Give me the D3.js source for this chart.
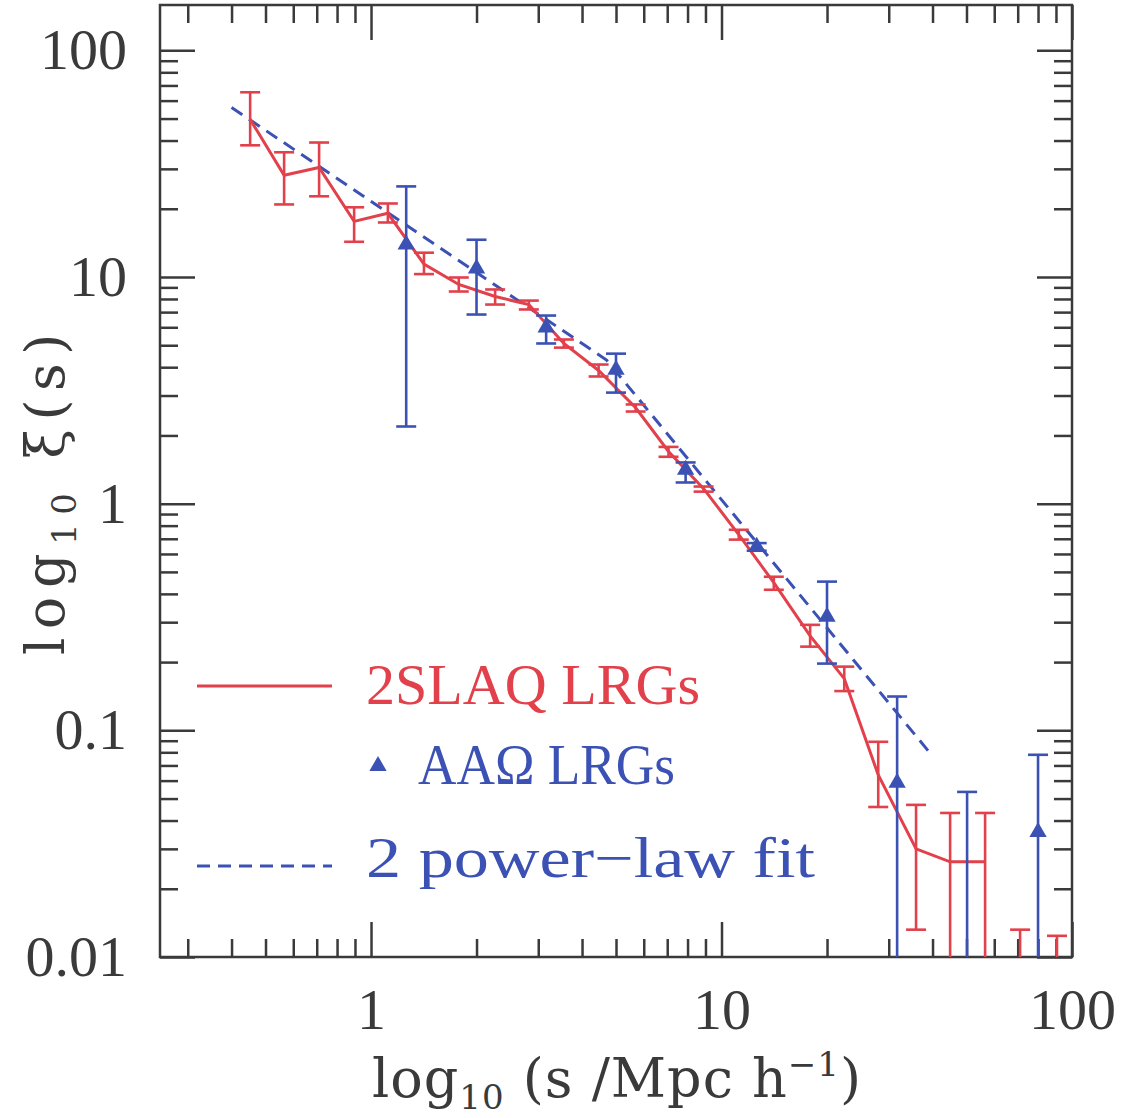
<!DOCTYPE html>
<html>
<head>
<meta charset="utf-8">
<script src="https://cdn.jsdelivr.net/npm/d3@7"></script>
<style>
  html, body { margin: 0; padding: 0; background: #fff; }
  svg { display: block; }
</style>
</head>
<body>
<svg id="chart" width="1131" height="1118"></svg>
<script>
// ---------- data ----------
const sRed   = [0.452, 0.565, 0.711, 0.895, 1.117, 1.416, 1.78, 2.26, 2.82, 3.55, 4.46, 5.69, 7.06, 8.89, 11.2, 14.1, 17.9, 22.4, 28.0, 35.9, 44.9, 56.5, 71.1, 90.6];
const xiRed  = [49.6, 28.1, 30.4, 17.6, 19.1, 11.4, 9.27, 8.20, 7.56, 5.09, 3.87, 2.65, 1.70, 1.165, 0.730, 0.448, 0.261, 0.169, 0.0636, 0.030, 0.0263, 0.0263, null, null];
const redHi  = [65.3, 35.5, 39.2, 20.3, 21.1, 12.8, 9.95, 8.81, 7.87, 5.30, 4.11, 2.74, 1.78, 1.19, 0.767, 0.476, 0.292, 0.191, 0.089, 0.0469, 0.0432, 0.0432, 0.0132, 0.0124];
const redLo  = [38.1, 20.9, 22.7, 14.3, 17.4, 10.3, 8.63, 7.56, 7.19, 4.88, 3.64, 2.55, 1.61, 1.13, 0.694, 0.417, 0.234, 0.149, 0.0459, 0.0132, null, null, null, null];

const sBlue  = [1.26, 2.0, 3.16, 5.0, 7.9, 12.6, 20.0, 31.7, 50.2, 80.0];
const xiBlue = [13.9, 10.9, 5.98, 3.90, 1.41, 0.646, 0.317, 0.0587, null, 0.0356];
const blueHi = [25.1, 14.6, 6.76, 4.59, 1.52, 0.67, 0.453, 0.141, 0.0535, 0.078];
const blueLo = [2.19, 6.83, 5.09, 3.09, 1.24, 0.62, 0.197, null, null, null];

const sFit   = [0.40, 4.7, 40];
const xiFit  = [56, 4.3, 0.077];

const xMajor = [1, 10, 100];
const xMajorLabels = ["1", "10", "100"];
const yMajor = [0.01, 0.1, 1, 10, 100];
const yMajorLabels = ["0.01", "0.1", "1", "10", "100"];

const legendLabels = ["2SLAQ LRGs", "AA\u03A9 LRGs", "2 power\u2212law fit"];

// ---------- setup ----------
const RED = "#e2404b", BLUE = "#3b52b4", AXIS = "#3a3a3a";
const FONT = "'Liberation Serif', 'DejaVu Serif', serif";
const TFONT = "'DejaVu Serif', 'Liberation Serif', serif";
const L = 160, R = 1072, T = 5, B = 957;

const svg = d3.select("#chart");
const x = d3.scaleLog().domain([0.25, 100]).range([L, R]);
const y = d3.scaleLog().domain([0.01, Math.pow(10, 2.2)]).range([B, T]);

function minors(lo, hi) {
  const out = [];
  for (let e = Math.floor(Math.log10(lo)); e <= Math.ceil(Math.log10(hi)); e++) {
    for (let m = 2; m <= 9; m++) {
      const v = m * Math.pow(10, e);
      if (v > lo * 1.0001 && v < hi * 0.9999) out.push(v);
    }
  }
  return out;
}
const xMinor = minors(0.25, 100);
const yMinor = minors(0.01, Math.pow(10, 2.2));

svg.append("defs").append("clipPath").attr("id", "clip")
  .append("rect").attr("x", L).attr("y", T).attr("width", R - L).attr("height", B - T);

// ---------- axes ----------
function styleAxis(g, labels) {
  g.select(".domain").remove();
  g.selectAll(".tick line").attr("stroke", AXIS).attr("stroke-width", 2.5);
  g.selectAll("text").attr("fill", AXIS).style("font-family", FONT).style("font-size", "58px");
  if (!labels) g.selectAll("text").remove();
}
const MAJ = 35, MIN = 18;
// bottom
svg.append("g").attr("transform", `translate(0,${B})`)
  .call(d3.axisBottom(x).tickValues(xMajor).tickSize(-MAJ).tickPadding(31)
    .tickFormat((d, i) => xMajorLabels[i]))
  .call(g => styleAxis(g, true));
svg.append("g").attr("transform", `translate(0,${B})`)
  .call(d3.axisBottom(x).tickValues(xMinor).tickSize(-MIN)).call(g => styleAxis(g, false));
// top
svg.append("g").attr("transform", `translate(0,${T})`)
  .call(d3.axisTop(x).tickValues(xMajor).tickSize(-MAJ)).call(g => styleAxis(g, false));
svg.append("g").attr("transform", `translate(0,${T})`)
  .call(d3.axisTop(x).tickValues(xMinor).tickSize(-MIN)).call(g => styleAxis(g, false));
// left
svg.append("g").attr("transform", `translate(${L},0)`)
  .call(d3.axisLeft(y).tickValues(yMajor).tickSize(-MAJ).tickPadding(33)
    .tickFormat((d, i) => yMajorLabels[i]))
  .call(g => styleAxis(g, true));
svg.append("g").attr("transform", `translate(${L},0)`)
  .call(d3.axisLeft(y).tickValues(yMinor).tickSize(-MIN)).call(g => styleAxis(g, false));
// right
svg.append("g").attr("transform", `translate(${R},0)`)
  .call(d3.axisRight(y).tickValues(yMajor).tickSize(-MAJ)).call(g => styleAxis(g, false));
svg.append("g").attr("transform", `translate(${R},0)`)
  .call(d3.axisRight(y).tickValues(yMinor).tickSize(-MIN)).call(g => styleAxis(g, false));

// frame
svg.append("rect").attr("x", L).attr("y", T).attr("width", R - L).attr("height", B - T)
  .attr("fill", "none").attr("stroke", AXIS).attr("stroke-width", 2.5);

// ---------- data marks ----------
const plot = svg.append("g").attr("clip-path", "url(#clip)");
const yLow = v => (v == null ? B + 5 : y(v));

// fit (dashed)
plot.append("path")
  .datum(sFit.map((s, i) => [s, xiFit[i]]))
  .attr("d", d3.line().x(d => x(d[0])).y(d => y(d[1])))
  .attr("fill", "none").attr("stroke", BLUE).attr("stroke-width", 3)
  .attr("stroke-dasharray", "13,8");

// red error bars
const redData = sRed.map((s, i) => ({ s, v: xiRed[i], hi: redHi[i], lo: redLo[i] }));
const capR = 10;
const rg = plot.append("g").attr("stroke", RED).attr("stroke-width", 2.6).attr("fill", "none");
rg.selectAll("line.v").data(redData).join("line")
  .attr("x1", d => x(d.s)).attr("x2", d => x(d.s))
  .attr("y1", d => y(d.hi)).attr("y2", d => yLow(d.lo));
rg.selectAll("line.h").data(redData).join("line")
  .attr("x1", d => x(d.s) - capR).attr("x2", d => x(d.s) + capR)
  .attr("y1", d => y(d.hi)).attr("y2", d => y(d.hi));
rg.selectAll("line.l").data(redData.filter(d => d.lo != null)).join("line")
  .attr("x1", d => x(d.s) - capR).attr("x2", d => x(d.s) + capR)
  .attr("y1", d => y(d.lo)).attr("y2", d => y(d.lo));
// red line
plot.append("path")
  .datum(redData.filter(d => d.v != null))
  .attr("d", d3.line().x(d => x(d.s)).y(d => y(d.v)))
  .attr("fill", "none").attr("stroke", RED).attr("stroke-width", 3);

// blue error bars + triangles
const blueData = sBlue.map((s, i) => ({ s, v: xiBlue[i], hi: blueHi[i], lo: blueLo[i] }));
const capB = 10;
const bg = plot.append("g").attr("stroke", BLUE).attr("stroke-width", 2.6).attr("fill", "none");
bg.selectAll("line.v").data(blueData).join("line")
  .attr("x1", d => x(d.s)).attr("x2", d => x(d.s))
  .attr("y1", d => y(d.hi)).attr("y2", d => yLow(d.lo));
bg.selectAll("line.h").data(blueData).join("line")
  .attr("x1", d => x(d.s) - capB).attr("x2", d => x(d.s) + capB)
  .attr("y1", d => y(d.hi)).attr("y2", d => y(d.hi));
bg.selectAll("line.l").data(blueData.filter(d => d.lo != null)).join("line")
  .attr("x1", d => x(d.s) - capB).attr("x2", d => x(d.s) + capB)
  .attr("y1", d => y(d.lo)).attr("y2", d => y(d.lo));
const tri = d3.symbol().type(d3.symbolTriangle).size(130);
plot.append("g").selectAll("path").data(blueData.filter(d => d.v != null)).join("path")
  .attr("transform", d => `translate(${x(d.s)},${y(d.v)})`)
  .attr("d", tri).attr("fill", BLUE);

// ---------- legend ----------
const lg = svg.append("g");
lg.append("line").attr("x1", 197).attr("x2", 332).attr("y1", 686).attr("y2", 686)
  .attr("stroke", RED).attr("stroke-width", 3);
lg.append("text").attr("x", 366).attr("y", 704).text(legendLabels[0])
  .attr("fill", RED).style("font-family", FONT).style("font-size", "56px")
  .attr("textLength", 334).attr("lengthAdjust", "spacingAndGlyphs");
lg.append("path").attr("transform", "translate(378,766)").attr("d", tri).attr("fill", BLUE);
lg.append("text").attr("x", 418).attr("y", 784).text(legendLabels[1])
  .attr("fill", BLUE).style("font-family", FONT).style("font-size", "56px")
  .attr("textLength", 257).attr("lengthAdjust", "spacingAndGlyphs");
lg.append("line").attr("x1", 197).attr("x2", 332).attr("y1", 866).attr("y2", 866)
  .attr("stroke", BLUE).attr("stroke-width", 3).attr("stroke-dasharray", "13,8");
lg.append("text").attr("x", 366).attr("y", 877).text(legendLabels[2])
  .attr("fill", BLUE).style("font-family", FONT).style("font-size", "56px")
  .attr("textLength", 449).attr("lengthAdjust", "spacingAndGlyphs");

// ---------- axis titles ----------
function fitWidth(sel, target) {
  const n = sel.text().length;
  const w = sel.node().getComputedTextLength();
  sel.attr("letter-spacing", Math.max(0, (target - w) / n));
}
const xt = svg.append("text").attr("x", 372).attr("y", 1097)
  .attr("fill", AXIS).style("font-family", TFONT).style("font-size", "54px");
xt.append("tspan").text("log");
xt.append("tspan").attr("dy", 12).style("font-size", "34px").text("10");
xt.append("tspan").attr("dy", -12).text(" (s /Mpc h");
xt.append("tspan").attr("dy", -21).style("font-size", "34px").text("\u22121");
xt.append("tspan").attr("dy", 21).text(")");
fitWidth(xt, 490);

const yt = svg.append("text")
  .attr("transform", "translate(64,655) rotate(-90)")
  .attr("fill", AXIS).style("font-family", TFONT).style("font-size", "54px");
yt.append("tspan").text("log");
yt.append("tspan").attr("dy", 12).style("font-size", "34px").text("10");
yt.append("tspan").attr("dy", -12).text(" \u03BE(s)");
fitWidth(yt, 330);
</script>
</body>
</html>
